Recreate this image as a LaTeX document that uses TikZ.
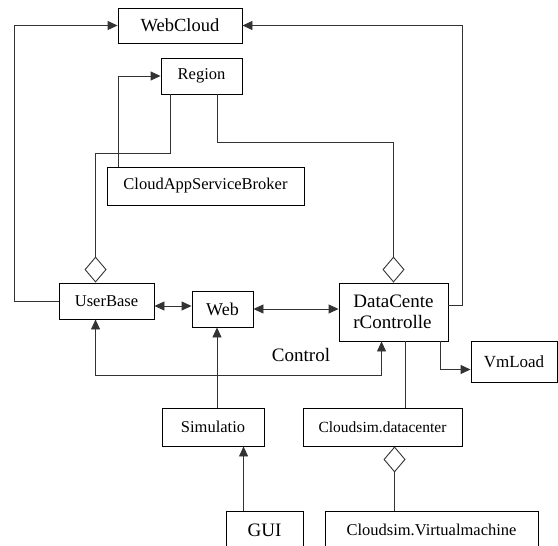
\documentclass[tikz,border=0pt]{standalone}
\usepackage{fontspec}
\setmainfont{Liberation Serif}
\usetikzlibrary{arrows.meta, positioning}
\newcommand{\fs}[1]{\fontsize{#1}{1.1\dimexpr#1pt\relax}\selectfont}

\begin{document}
\begin{tikzpicture}[
    x=1pt, y=-1pt,
    box/.style={rectangle, draw=black, line width=0.9pt, fill=white, inner sep=0pt, font=\fs{16.5}},
    line/.style={line width=0.9pt, black!80},
    arrow/.style={line, -{Triangle[length=10pt, width=9pt]}},
    biarrow/.style={line, {Triangle[length=10pt, width=9pt]}-{Triangle[length=10pt, width=9pt]}},
    agg/.style={line, -{Diamond[open, length=26pt, width=22pt, line width=0.9pt]}}
]
\useasboundingbox (0,0) rectangle (558,546);

% 上层
\node[box, minimum width=124pt, minimum height=35pt, font=\fs{18.5}] (webcloud) at (180,25.5) {WebCloud};
\node[box, minimum width=81pt, minimum height=36pt] (region) at (201.5,76) {Region};
\node[box, minimum width=197pt, minimum height=38pt] (broker) at (205.5,186) {CloudAppServiceBroker};

% 中层
\node[box, minimum width=95pt, minimum height=36pt] (userbase) at (106.5,301) {UserBase};
\node[box, minimum width=61pt, minimum height=36pt, font=\fs{18}] (web) at (222.5,309) {Web};
\node[box, minimum width=109pt, minimum height=58pt, align=left, font=\fontsize{19}{21}\selectfont] (dcc) at (393.5,312) {DataCente\\rControlle};
\node[box, minimum width=86pt, minimum height=41pt, font=\fs{17}] (vmload) at (514,361.5) {VmLoad};
\node[font=\fs{19}] (ctrl) at (301,355) {Control};

% 下层
\node[box, minimum width=102pt, minimum height=38pt] (simu) at (213,427) {Simulatio};
\node[box, minimum width=159pt, minimum height=38pt, font=\fs{15.5}] (dcsim) at (382.5,427) {Cloudsim.datacenter};
\node[box, minimum width=77pt, minimum height=38pt, font=\fs{19}] (gui) at (264.5,530) {GUI};
\node[box, minimum width=213pt, minimum height=38pt] (vmsim) at (431.5,530) {Cloudsim.Virtualmachine};

% 到 WebCloud 的箭头
\draw[arrow] (userbase.west) -- ++(-44,0) |- (webcloud);
\draw[arrow] ([yshift=7pt]dcc.east) -- ++(14,0) |- (webcloud);

% Region 相关
\draw[arrow] (broker.north west) ++(12,0) |- (region);
\draw[agg] ([xshift=10pt]region.south west) -- ++(0,59) -| ([xshift=37pt]userbase.north west);
\draw[agg] ([xshift=-25pt]region.south east) -- ++(0,48) -| (dcc.north);

% 中层连接
\draw[biarrow] ([yshift=-5pt]userbase.east) -- ([yshift=-5pt]userbase.east -| web.west);
\draw[biarrow] (web.east) -- (web.east -| dcc.west);
\draw[biarrow] ([xshift=37pt]userbase.south west) -- ++(0,56) -| ([xshift=43pt]dcc.south west);
\draw[arrow] ([xshift=-8pt]dcc.south east) |- ([yshift=-8pt]vmload.west);

% 下层连接
\draw[arrow] ([xshift=4pt]simu.north) -- ([xshift=4pt]simu.north |- web.south);
\draw[arrow] ([xshift=18pt]gui.north west) -- ([xshift=18pt]gui.north west |- simu.south);
\draw[line] ([xshift=67pt]dcc.south west) -- ([xshift=67pt]dcc.south west |- dcsim.north);
\draw[agg] ([xshift=70pt]vmsim.north west) -- ([xshift=70pt]vmsim.north west |- dcsim.south);

\end{tikzpicture}
\end{document}
